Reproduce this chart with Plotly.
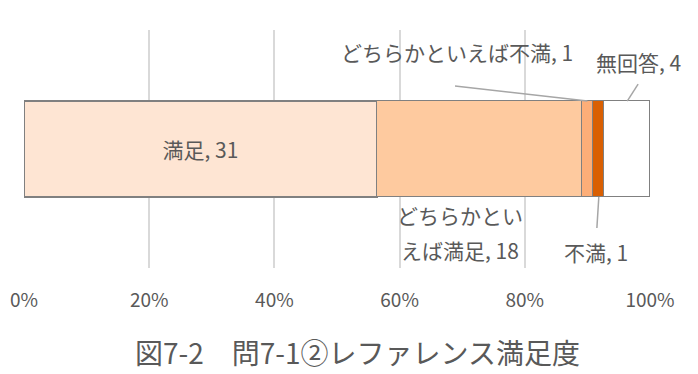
import plotly.graph_objects as go

categories = ["満足", "どちらかといえば満足", "どちらかといえば不満", "不満", "無回答"]
values = [31, 18, 1, 1, 4]
colors = ["#FEE5D3", "#FECA9F", "#FDAE78", "#D95F02", "#FFFFFF"]
line_widths = [2, 1.2, 1.2, 1.2, 1.2]
tick_vals = [0, 0.2, 0.4, 0.6, 0.8, 1.0]
tick_text = ["0%", "20%", "40%", "60%", "80%", "100%"]
title_text = "図7-2　問7-1②レファレンス満足度"

total = sum(values)
fracs = [v / total for v in values]
cum = []
s = 0
for f in fracs:
    cum.append(s)
    s += f

FONT = "Noto Sans CJK JP"
TXT = "#595959"
BAR_W = 0.403
top = BAR_W / 2
LBL = 21

fig = go.Figure()
for i, (c, f) in enumerate(zip(categories, fracs)):
    fig.add_trace(go.Bar(
        y=["r"], x=[f], orientation="h", name=c,
        marker=dict(color=colors[i], line=dict(color="#808080", width=line_widths[i])),
        width=BAR_W,
        text=[f"{c}, {values[i]}"] if i == 0 else None,
        textposition="inside" if i == 0 else "none",
        insidetextanchor="middle",
        textfont=dict(family=FONT, size=LBL, color=TXT),
        hoverinfo="skip",
    ))

mid = [cum[i] + fracs[i] / 2 for i in range(len(values))]

annotations = [
    dict(x=0.692, y=0.408, text=f"{categories[2]}, {values[2]}"),
    dict(x=0.981, y=0.366, text=f"{categories[4]}, {values[4]}"),
    dict(x=0.914, y=-0.433, text=f"{categories[3]}, {values[3]}"),
    dict(x=0.697, y=-0.277, text=categories[1][:6]),
    dict(x=0.697, y=-0.424, text=f"{categories[1][6:]}, {values[1]}"),
]
for a in annotations:
    a.update(xref="x", yref="y", showarrow=False,
             font=dict(family=FONT, size=LBL, color=TXT))

annotations.append(dict(
    x=0.532, y=-0.353, xref="paper", yref="paper", showarrow=False,
    yanchor="middle",
    text=title_text, font=dict(family=FONT, size=28, color=TXT)))

shapes = [
    dict(type="line", xref="x", yref="y", x0=0.6885, y0=0.265, x1=mid[2], y1=top,
         line=dict(color="#A6A6A6", width=1.5)),
    dict(type="line", xref="x", yref="y", x0=0.981, y0=0.273, x1=mid[4], y1=top,
         line=dict(color="#A6A6A6", width=1.5)),
    dict(type="line", xref="x", yref="y", x0=mid[3] - 0.003, y0=-0.332, x1=mid[3], y1=-top,
         line=dict(color="#A6A6A6", width=1.5)),
]

fig.update_layout(
    barmode="stack",
    width=698, height=374,
    margin=dict(l=24, r=48, t=30, b=106, autoexpand=False),
    paper_bgcolor="white", plot_bgcolor="white",
    showlegend=False,
    bargap=0,
    annotations=annotations,
    shapes=shapes,
    xaxis=dict(range=[0, 1], tickvals=tick_vals, ticktext=tick_text,
               showgrid=True, gridcolor="#D9D9D9", gridwidth=1.5,
               zeroline=False, showline=False, ticks="",
               automargin=False,
               ticklabelstandoff=19,
               tickfont=dict(family=FONT, size=19, color=TXT)),
    yaxis=dict(range=[-0.5, 0.5], showticklabels=False, showgrid=False,
               zeroline=False, showline=False, type="category", automargin=False),
)

fig.write_html(
    "out.html",
    config={"displayModeBar": False},
    post_script="document.body.style.margin='0';document.body.style.overflow='hidden';",
)
